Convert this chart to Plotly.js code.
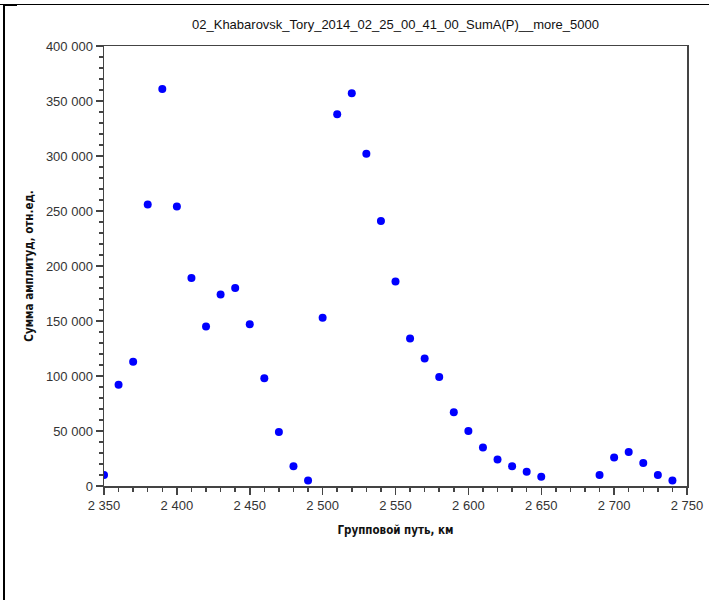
<!DOCTYPE html>
<html>
<head>
<meta charset="utf-8">
<script src="https://cdn.plot.ly/plotly-3.0.1.min.js"></script>
<style>
  html, body { margin: 0; padding: 0; background: #fff; }
  #wrap { position: relative; width: 709px; height: 600px; }
  #chart { position: absolute; left: 0; top: 0; width: 709px; height: 600px; }
  #frameTop { position: absolute; left: 0; top: 4px; width: 709px; height: 0; border-top: 1px solid #000; }
  #frameTopThick { position: absolute; left: 3px; top: 4px; width: 14px; height: 2px; background: #000; }
  #frameLeft { position: absolute; left: 3px; top: 4px; width: 2px; height: 596px; background: #000; }
</style>
</head>
<body>
<div id="wrap">
  <div id="chart"></div>
  <div id="frameTop"></div>
  <div id="frameTopThick"></div>
  <div id="frameLeft"></div>
</div>
<script>
const groupPath = [2350, 2360, 2370, 2380, 2390, 2400, 2410, 2420, 2430, 2440,
                   2450, 2460, 2470, 2480, 2490, 2500, 2510, 2520, 2530, 2540,
                   2550, 2560, 2570, 2580, 2590, 2600, 2610, 2620, 2630, 2640,
                   2650, 2690, 2700, 2710, 2720, 2730, 2740];
const sumAmplitude = [10000, 92000, 113000, 256000, 361000, 254000, 189000, 145000, 174000, 180000,
                      147000, 98000, 49000, 18000, 5000, 153000, 338000, 357000, 302000, 241000,
                      186000, 134000, 116000, 99000, 67000, 50000, 35000, 24000, 18000, 13000,
                      8500, 10000, 26000, 31000, 21000, 10000, 5000];

const chartTitle = "02_Khabarovsk_Tory_2014_02_25_00_41_00_SumA(P)__more_5000";
const xTitle = "Групповой путь, км";
const yTitle = "Сумма амплитуд, отн.ед.";

const trace = {
  x: groupPath,
  y: sumAmplitude,
  type: 'scatter',
  mode: 'markers',
  marker: { color: '#0000ff', size: 8 },
  cliponaxis: true,
  hoverinfo: 'x+y'
};

const axisCommon = {
  showgrid: false,
  zeroline: false,
  showline: true,
  linecolor: '#444',
  linewidth: 1.5,
  mirror: true,
  ticks: 'outside',
  ticklen: 7,
  tickwidth: 1.5,
  tickcolor: '#444',
  tickformat: ',d',
  tickfont: { family: 'Liberation Sans, Arial, sans-serif', size: 13, color: '#333' }
};

const layout = {
  width: 709,
  height: 600,
  margin: { l: 104, r: 22, t: 46, b: 114 },
  paper_bgcolor: '#fff',
  plot_bgcolor: '#fff',
  separators: '. ',
  showlegend: false,
  title: {
    text: chartTitle,
    font: { family: 'Liberation Sans, Arial, sans-serif', size: 13, color: '#111' },
    x: 0.5, xref: 'paper', xanchor: 'center',
    y: 1 - 24 / 600, yanchor: 'middle'
  },
  xaxis: Object.assign({}, axisCommon, {
    range: [2350, 2750],
    dtick: 50,
    tick0: 2350,
    minor: { ticks: 'outside', dtick: 10, ticklen: 4, tickwidth: 1.5, tickcolor: '#444' },
    title: { text: xTitle, standoff: 14,
             font: { family: 'DejaVu Sans Condensed, Liberation Sans, sans-serif', size: 11.5, color: '#111', weight: 'bold' } }
  }),
  yaxis: Object.assign({}, axisCommon, {
    range: [0, 400000],
    dtick: 50000,
    minor: { ticks: 'outside', dtick: 10000, ticklen: 4, tickwidth: 1.5, tickcolor: '#444' },
    title: { text: yTitle, standoff: 10,
             font: { family: 'DejaVu Sans Condensed, Liberation Sans, sans-serif', size: 11.5, color: '#111', weight: 'bold' } }
  })
};

Plotly.newPlot('chart', [trace], layout, { displayModeBar: false, staticPlot: true });
</script>
</body>
</html>
